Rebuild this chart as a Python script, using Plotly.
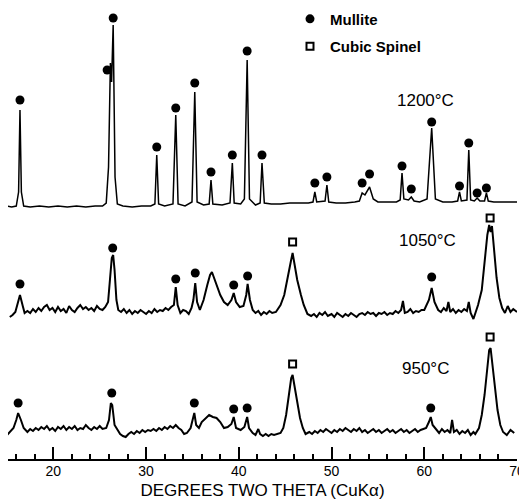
import plotly.graph_objects as go

# ---------------- data (2-theta in degrees, intensity in arbitrary units above each baseline) ----------------
scan_1200 = [
    (15.0, 1), (15.5, 0), (16.0, 1), (16.25, 15), (16.4, 97), (16.55, 15), (16.8, 1), (17.5, 0), (18.5, 1),
    (19.5, 0), (20.5, 1), (21.5, 0), (22.5, 1), (23.5, 0), (24.5, 1), (25.3, 1), (25.7, 4), (25.95, 40),
    (26.15, 144), (26.28, 125), (26.45, 182), (26.65, 30), (26.9, 3), (27.5, 1), (28.5, 0), (29.5, 1), (30.5, 1),
    (30.95, 3), (31.15, 52), (31.35, 3), (32.0, 1), (32.9, 3), (33.2, 92), (33.45, 3), (34.2, 1), (34.95, 5),
    (35.25, 115), (35.5, 5), (36.2, 2), (36.8, 3), (37.0, 27), (37.2, 3), (38.2, 2), (39.05, 4), (39.3, 44),
    (39.5, 4), (40.2, 3), (40.6, 8), (40.9, 147), (41.15, 8), (41.8, 2), (42.3, 4), (42.5, 44), (42.75, 4),
    (43.5, 3), (44.5, 3), (45.5, 4), (46.5, 4), (47.5, 4), (48.0, 5), (48.2, 15), (48.4, 5), (49.3, 6),
    (49.5, 22), (49.7, 5), (50.5, 4), (51.5, 4), (52.5, 5), (53.0, 6), (53.3, 14), (53.6, 12), (54.1, 20),
    (54.5, 8), (55.0, 5), (56.0, 5), (57.0, 5), (57.4, 7), (57.6, 34), (57.8, 8), (58.3, 7), (58.6, 10),
    (58.9, 6), (59.5, 5), (60.3, 8), (60.8, 79), (61.2, 8), (62.0, 5), (63.0, 5), (63.6, 6), (63.8, 15),
    (64.0, 6), (64.6, 7), (64.8, 57), (65.0, 7), (65.4, 6), (65.7, 9), (66.0, 6), (66.5, 6), (66.7, 14),
    (66.9, 6), (67.5, 5), (68.5, 5), (69.5, 5), (70.0, 5),
]

scan_1050 = [
    (15.3, -2), (15.6, 0), (15.9, 3), (16.1, 10), (16.4, 20), (16.7, 9), (16.9, 2), (17.2, 4), (17.5, 2),
    (17.8, 6), (18.1, 3), (18.4, 7), (18.7, 4), (19.0, 8), (19.3, 10), (19.6, 5), (19.9, 7), (20.2, 3),
    (20.5, 8), (20.8, 4), (21.1, 6), (21.4, 2), (21.7, 9), (22.0, 5), (22.3, 3), (22.6, 7), (22.9, 10),
    (23.2, 6), (23.5, 8), (23.8, 5), (24.1, 7), (24.4, 4), (24.7, 9), (25.0, 6), (25.3, 5), (25.6, 8),
    (25.9, 13), (26.1, 35), (26.3, 57), (26.45, 60), (26.6, 45), (26.8, 15), (27.0, 5), (27.3, 3), (27.6, 6),
    (27.9, 2), (28.2, 5), (28.5, 1), (28.8, 4), (29.1, 2), (29.4, 5), (29.7, 3), (30.0, 1), (30.3, 4),
    (30.6, 2), (30.9, 6), (31.2, 3), (31.5, 5), (31.8, 4), (32.1, 7), (32.4, 5), (32.7, 8), (33.0, 10),
    (33.2, 28), (33.4, 10), (33.7, 2), (34.0, 5), (34.3, 4), (34.6, 1), (34.9, 7), (35.1, 15), (35.3, 32),
    (35.5, 13), (35.8, 5), (36.2, 15), (36.6, 30), (36.9, 40), (37.1, 43), (37.4, 35), (37.7, 27), (38.0, 20),
    (38.4, 13), (38.8, 10), (39.2, 15), (39.45, 22), (39.7, 13), (40.1, 8), (40.5, 9), (40.8, 20), (40.95, 31),
    (41.2, 15), (41.5, 5), (41.8, 2), (42.1, 4), (42.4, 0), (42.7, 3), (43.0, 1), (43.3, 4), (43.6, 2),
    (44.0, 3), (44.5, 10), (44.9, 20), (45.3, 37), (45.6, 53), (45.8, 62), (46.0, 50), (46.3, 35), (46.7, 20),
    (47.0, 10), (47.4, 1), (47.8, -1), (48.1, 1), (48.4, -2), (48.7, 2), (49.0, 0), (49.3, 3), (49.6, -1),
    (50.0, 1), (50.3, -2), (50.6, 2), (50.9, 0), (51.2, -2), (51.5, 1), (51.8, -1), (52.1, 2), (52.4, 0),
    (52.7, -2), (53.0, 1), (53.3, 2), (53.6, 0), (53.9, 3), (54.2, 1), (54.5, 2), (54.8, -1), (55.1, 2),
    (55.4, 1), (55.7, 3), (56.0, 0), (56.3, 2), (56.6, 1), (56.9, 4), (57.2, 2), (57.5, 5), (57.7, 14),
    (57.9, 2), (58.2, 3), (58.5, 6), (58.8, 2), (59.1, 4), (59.4, 3), (59.7, 5), (60.0, 5), (60.5, 15),
    (60.8, 27), (61.1, 13), (61.5, 5), (61.8, 3), (62.1, 7), (62.4, 4), (62.6, 13), (62.8, 3), (63.1, 6),
    (63.4, 2), (63.7, 5), (64.0, 3), (64.3, 6), (64.6, 4), (64.8, 13), (65.0, 2), (65.3, -4), (65.6, 4),
    (65.8, 10), (66.2, 25), (66.5, 53), (66.8, 80), (67.0, 90), (67.15, 83), (67.3, 89), (67.5, 65),
    (67.8, 37), (68.1, 17), (68.4, 7), (68.7, 2), (69.0, 9), (69.3, 3), (69.6, 6), (70.0, 3),
]

scan_950 = [
    (15.0, -3), (15.3, 0), (15.7, 4), (16.0, 12), (16.2, 19), (16.5, 12), (16.8, 4), (17.2, 0), (17.5, 3),
    (17.8, 1), (18.1, 4), (18.4, 2), (18.7, 5), (19.0, 3), (19.3, 6), (19.6, 2), (19.9, 4), (20.2, 1),
    (20.5, 5), (20.8, 3), (21.1, 6), (21.4, 2), (21.7, 5), (22.0, 3), (22.3, 6), (22.6, 2), (22.9, 4),
    (23.2, 3), (23.5, 7), (23.8, 4), (24.1, 2), (24.4, 5), (24.7, 3), (25.0, 6), (25.3, 3), (25.7, 4),
    (26.0, 12), (26.2, 29), (26.35, 27), (26.6, 7), (26.9, 2), (27.2, -2), (27.5, -4), (27.8, -5), (28.1, -2),
    (28.4, 0), (28.7, -2), (29.0, 1), (29.3, -1), (29.6, 2), (29.9, 0), (30.2, 2), (30.5, 1), (30.8, 3),
    (31.1, 1), (31.4, 4), (31.7, 2), (32.0, 5), (32.3, 3), (32.6, 6), (32.9, 4), (33.2, 7), (33.5, 4),
    (33.8, 2), (34.1, -2), (34.4, -1), (34.8, 4), (35.0, 12), (35.2, 19), (35.4, 7), (35.7, 4), (36.0, 10),
    (36.4, 14), (36.8, 17), (37.2, 15), (37.6, 14), (38.0, 10), (38.4, 4), (38.8, 5), (39.2, 8), (39.45, 15),
    (39.7, 4), (40.2, 2), (40.6, 5), (40.9, 15), (41.1, 4), (41.5, -1), (41.8, -3), (42.1, 3), (42.3, -2),
    (42.6, -4), (42.9, -2), (43.2, -4), (43.5, -2), (43.8, -3), (44.1, -2), (44.5, -1), (44.8, 4), (45.1, 17),
    (45.4, 37), (45.65, 54), (45.8, 57), (46.0, 47), (46.3, 32), (46.6, 14), (46.9, 4), (47.2, -2), (47.6, 0),
    (47.9, -2), (48.2, 1), (48.5, -1), (48.8, 2), (49.1, 0), (49.4, 3), (49.7, 1), (50.0, -1), (50.3, 2),
    (50.6, 0), (50.9, 3), (51.2, 1), (51.5, 4), (51.8, 2), (52.1, 0), (52.4, 3), (52.7, 1), (53.0, 4),
    (53.3, 0), (53.6, 2), (53.9, -1), (54.2, 1), (54.5, 3), (54.8, 0), (55.1, 2), (55.4, -1), (55.7, 1),
    (56.0, 3), (56.3, 0), (56.6, 2), (56.9, -1), (57.2, 1), (57.5, 3), (57.8, 0), (58.1, 2), (58.4, -1),
    (58.7, 1), (59.0, 3), (59.3, 0), (59.6, 2), (59.9, 3), (60.2, 4), (60.5, 10), (60.7, 15), (60.9, 7),
    (61.3, 2), (61.6, -1), (61.9, 3), (62.2, 0), (62.5, 2), (62.8, -1), (63.0, 12), (63.2, 0), (63.5, 2),
    (63.8, -2), (64.1, 1), (64.4, -1), (64.7, 2), (65.0, -3), (65.3, 0), (65.5, -2), (65.9, 4), (66.2, 17),
    (66.5, 37), (66.8, 64), (67.0, 82), (67.15, 84), (67.3, 72), (67.6, 47), (67.9, 22), (68.2, 7), (68.5, 0),
    (68.9, -3), (69.3, 2), (69.7, -1),
]

# peak labels: (2-theta, label height above baseline)
mullite_1200 = [
    (16.4, 107), (25.8, 137), (26.45, 189), (31.15, 60), (33.2, 99), (35.25, 124), (37.0, 35), (39.3, 52),
    (40.9, 156), (42.5, 52), (48.2, 24), (49.5, 30), (53.3, 24), (54.1, 33), (57.6, 41), (58.6, 18),
    (60.8, 85), (63.8, 21), (64.8, 64), (65.7, 14), (66.7, 19),
]
mullite_1050 = [(16.4, 31), (26.4, 67), (33.2, 36), (35.3, 42), (39.45, 30), (40.95, 39), (60.8, 38)]
spinel_1050 = [(45.8, 73), (67.1, 97)]
mullite_950 = [(16.2, 29), (26.3, 39), (35.2, 29), (39.45, 23), (40.9, 24), (60.7, 24)]
spinel_950 = [(45.8, 68), (67.1, 95)]

temperature_labels = ["1200°C", "1050°C", "950°C"]
baseline_offsets = [252, 144, 27]

# ---------------- figure ----------------
# the page body adds an 8 px margin; the figure is sized to fill the rest of the 527x500 window
FONT = "Liberation Sans, Arial, sans-serif"
fig = go.Figure()

scans = [scan_1200, scan_1050, scan_950]
widths = [1.5, 2.0, 2.0]
for scan, off, w in zip(scans, baseline_offsets, widths):
    xs = [p[0] for p in scan]
    ys = [p[1] + off for p in scan]
    fig.add_trace(go.Scatter(x=xs, y=ys, mode="lines", line=dict(color="black", width=w),
                             showlegend=False, hoverinfo="skip", cliponaxis=False))

mullite_sets = [(mullite_1200, baseline_offsets[0]), (mullite_1050, baseline_offsets[1]),
                (mullite_950, baseline_offsets[2])]
for i, (pk, off) in enumerate(mullite_sets):
    fig.add_trace(go.Scatter(
        x=[p[0] for p in pk], y=[p[1] + off for p in pk], mode="markers",
        marker=dict(symbol="circle", size=9, color="black"),
        name="Mullite", legendgroup="mullite", legendrank=1, showlegend=(i == 0)))

spinel_sets = [(spinel_1050, baseline_offsets[1]), (spinel_950, baseline_offsets[2])]
for i, (pk, off) in enumerate(spinel_sets):
    fig.add_trace(go.Scatter(
        x=[p[0] for p in pk], y=[p[1] + off for p in pk], mode="markers",
        marker=dict(symbol="square-open", size=7, color="black", line=dict(width=2, color="black")),
        name="Cubic Spinel", legendgroup="spinel", legendrank=2, showlegend=(i == 0)))

label_pos = [(60.15, 359), (60.3, 219), (60.1, 91)]
for txt, (lx, ly) in zip(temperature_labels, label_pos):
    fig.add_annotation(x=lx, y=ly, text=txt, showarrow=False,
                       font=dict(family=FONT, size=17, color="black"))

fig.update_layout(
    width=519, height=492,
    margin=dict(l=0, r=10, t=0, b=41, autoexpand=False),
    paper_bgcolor="white", plot_bgcolor="white",
    font=dict(family=FONT, color="black"),
    legend=dict(x=282 / 509, y=1.012, xanchor="left", yanchor="top",
                font=dict(family=FONT, size=15, color="black", weight="bold"),
                tracegroupgap=5, bgcolor="rgba(0,0,0,0)", itemwidth=30),
    xaxis=dict(range=[15.108, 70], showgrid=False, zeroline=False, showline=True,
               linecolor="black", linewidth=1.5, ticks="inside", ticklen=12, tickwidth=1.5,
               tickcolor="black", tick0=0, dtick=10, ticklabelstandoff=-2,
               minor=dict(ticks="inside", ticklen=5, tickwidth=1.5, tickcolor="black", dtick=2, tick0=0),
               tickfont=dict(family=FONT, size=14, color="black"),
               title=dict(text="DEGREES TWO THETA (CuKα)", standoff=7,
                          font=dict(family=FONT, size=17, color="black")),
               automargin=False),
    yaxis=dict(visible=False, range=[0, 451], fixedrange=True),
)

fig.write_html("out.html")
